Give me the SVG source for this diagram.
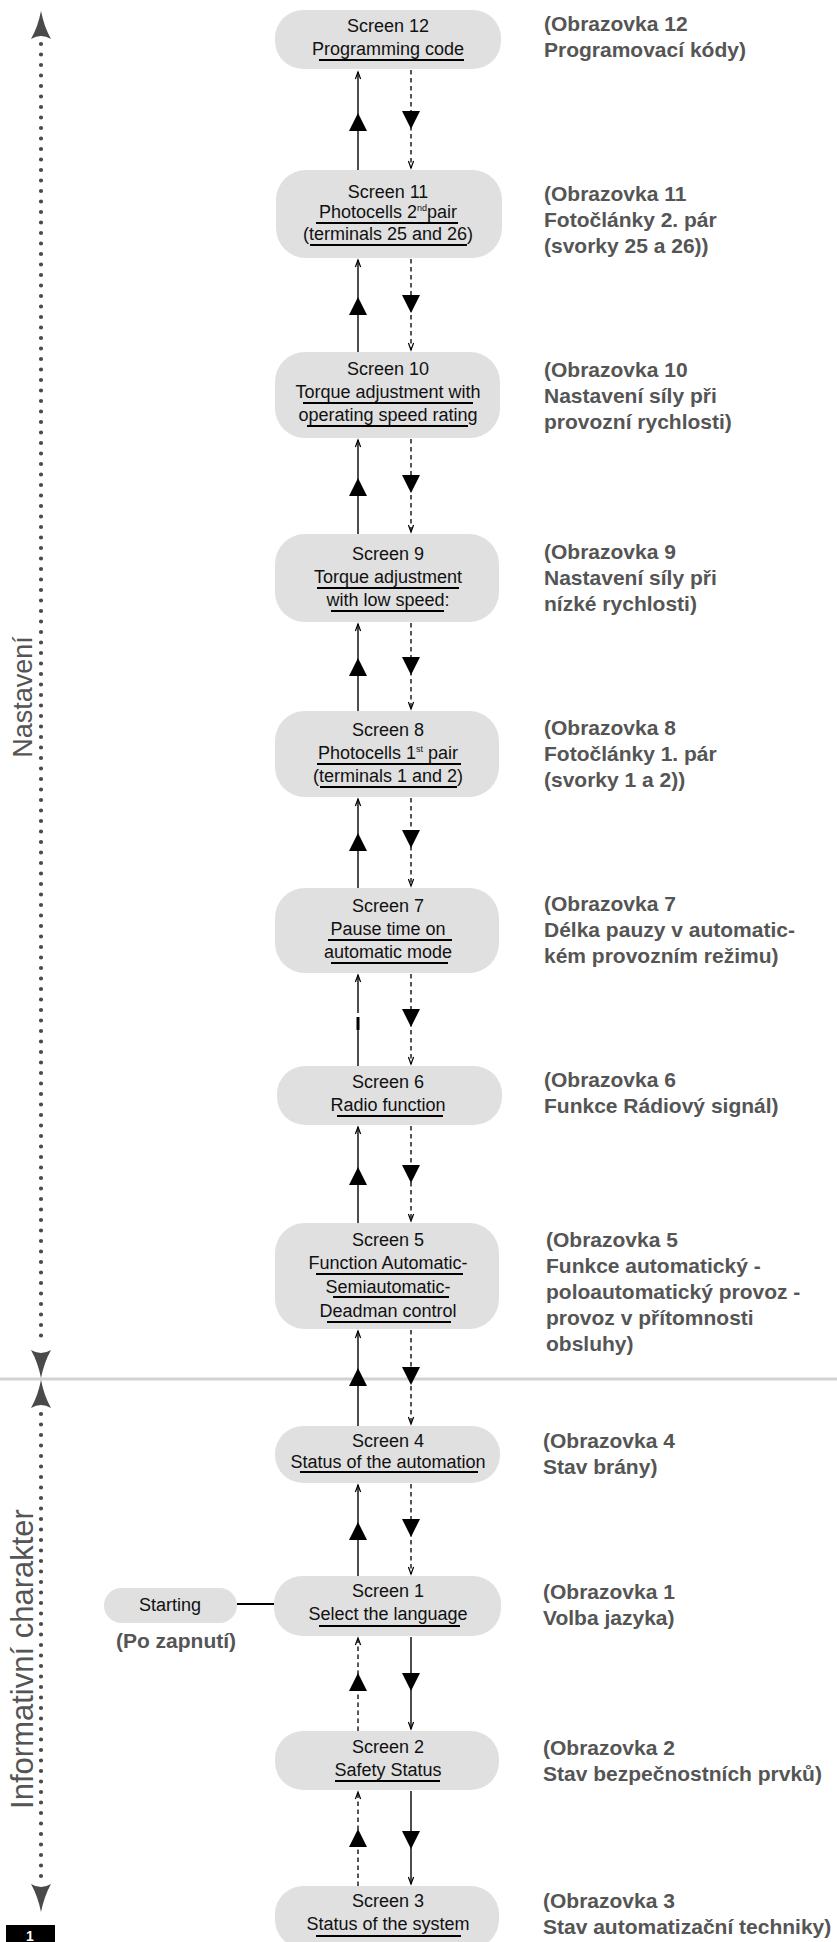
<svg xmlns="http://www.w3.org/2000/svg" xmlns:xlink="http://www.w3.org/1999/xlink" width="837" height="1942" viewBox="0 0 837 1942">
<style>
.box{fill:#e0e0e0}
.nt{font-family:"Liberation Sans",Arial,sans-serif;font-size:18px;fill:#111;text-anchor:middle}
.ul{stroke:#000;stroke-width:1.8}
.lbl{font-family:"Liberation Sans",Arial,sans-serif;font-size:21px;font-weight:bold;fill:#555}
.side{font-family:"Liberation Sans",Arial,sans-serif;font-size:27px;fill:#555;text-anchor:middle}
.sol{stroke:#3a3a3a;stroke-width:1.8;fill:none}
.dsh{stroke:#111;stroke-width:1.4;stroke-dasharray:4.5 3.5;fill:none}
.dots{stroke:#4a4a4a;stroke-width:4.2;stroke-linecap:round;stroke-dasharray:0 10.5;fill:none}
.tri{fill:#000}
.big{fill:#4a4a4a}
</style>
<defs>
<marker id="oa" markerUnits="userSpaceOnUse" markerWidth="12" markerHeight="10" viewBox="-10 -5 12 10" refX="0" refY="0" orient="auto">
<path d="M-7,-2.6 L0,0 L-7,2.6" fill="none" stroke="#000" stroke-width="1.2"/>
</marker>
<path id="tu" d="M0,0 L9,18 L-9,18Z"/>
<path id="td" d="M-9,0 L9,0 L0,18Z"/>
<path id="bigup" d="M0,0 C2,10 5,19 10,28 Q0,22 -10,28 C-5,19 -2,10 0,0Z"/>
<path id="bigdn" d="M0,0 C2,-10 5,-19 10,-28 Q0,-22 -10,-28 C-5,-19 -2,-10 0,0Z"/>
</defs>

<rect width="837" height="1942" fill="#fff"/>

<g id="divider">
<line x1="0" y1="1379" x2="837" y2="1379" stroke="#d2d2d2" stroke-width="3"/>
</g>

<g id="side-axis">
<line class="dots" x1="41" y1="44" x2="41" y2="1345"/>
<line class="dots" x1="41" y1="1414" x2="41" y2="1880"/>
<use xlink:href="#bigup" class="big" x="41" y="11"/>
<use xlink:href="#bigdn" class="big" x="41" y="1378"/>
<use xlink:href="#bigup" class="big" x="41" y="1380"/>
<use xlink:href="#bigdn" class="big" x="41" y="1912"/>
<text class="side" transform="translate(32,697) rotate(-90)">Nastavení</text>
<text class="side" style="font-size:31px" transform="translate(33,1659) rotate(-90)">Informativní charakter</text>
</g>

<g id="connectors">
<!-- 12-11 -->
<line class="sol" x1="358" y1="170" x2="358" y2="72" marker-end="url(#oa)"/>
<use xlink:href="#tu" class="tri" x="358" y="113"/>
<line class="dsh" x1="411" y1="70" x2="411" y2="168" marker-end="url(#oa)"/>
<use xlink:href="#td" class="tri" x="411" y="111"/>
<!-- 11-10 -->
<line class="sol" x1="358" y1="352" x2="358" y2="260" marker-end="url(#oa)"/>
<use xlink:href="#tu" class="tri" x="358" y="297"/>
<line class="dsh" x1="411" y1="259" x2="411" y2="350" marker-end="url(#oa)"/>
<use xlink:href="#td" class="tri" x="411" y="295"/>
<!-- 10-9 -->
<line class="sol" x1="358" y1="534" x2="358" y2="440" marker-end="url(#oa)"/>
<use xlink:href="#tu" class="tri" x="358" y="478"/>
<line class="dsh" x1="411" y1="439" x2="411" y2="532" marker-end="url(#oa)"/>
<use xlink:href="#td" class="tri" x="411" y="475"/>
<!-- 9-8 -->
<line class="sol" x1="358" y1="711" x2="358" y2="624" marker-end="url(#oa)"/>
<use xlink:href="#tu" class="tri" x="358" y="658"/>
<line class="dsh" x1="411" y1="623" x2="411" y2="709" marker-end="url(#oa)"/>
<use xlink:href="#td" class="tri" x="411" y="657"/>
<!-- 8-7 -->
<line class="sol" x1="358" y1="888" x2="358" y2="799" marker-end="url(#oa)"/>
<use xlink:href="#tu" class="tri" x="358" y="833"/>
<line class="dsh" x1="411" y1="798" x2="411" y2="886" marker-end="url(#oa)"/>
<use xlink:href="#td" class="tri" x="411" y="830"/>
<!-- 7-6 -->
<line class="sol" x1="358" y1="1066" x2="358" y2="1030"/>
<line x1="358" y1="1030" x2="358" y2="1017" stroke="#000" stroke-width="3"/>
<line class="sol" x1="358" y1="1013" x2="358" y2="975" marker-end="url(#oa)"/>
<line class="dsh" x1="411" y1="974" x2="411" y2="1064" marker-end="url(#oa)"/>
<use xlink:href="#td" class="tri" x="411" y="1009"/>
<!-- 6-5 -->
<line class="sol" x1="358" y1="1223" x2="358" y2="1127" marker-end="url(#oa)"/>
<use xlink:href="#tu" class="tri" x="358" y="1167"/>
<line class="dsh" x1="411" y1="1126" x2="411" y2="1221" marker-end="url(#oa)"/>
<use xlink:href="#td" class="tri" x="411" y="1165"/>
<!-- 5-4 -->
<line class="sol" x1="358" y1="1426" x2="358" y2="1331" marker-end="url(#oa)"/>
<use xlink:href="#tu" class="tri" x="358" y="1368"/>
<line class="dsh" x1="411" y1="1330" x2="411" y2="1424" marker-end="url(#oa)"/>
<use xlink:href="#td" class="tri" x="411" y="1367"/>
<!-- 4-1 -->
<line class="sol" x1="358" y1="1576" x2="358" y2="1485" marker-end="url(#oa)"/>
<use xlink:href="#tu" class="tri" x="358" y="1522"/>
<line class="dsh" x1="411" y1="1484" x2="411" y2="1574" marker-end="url(#oa)"/>
<use xlink:href="#td" class="tri" x="411" y="1519"/>
<!-- 1-2 -->
<line class="dsh" x1="358" y1="1731" x2="358" y2="1638" marker-end="url(#oa)"/>
<use xlink:href="#tu" class="tri" x="358" y="1673"/>
<line class="sol" x1="411" y1="1637" x2="411" y2="1729" marker-end="url(#oa)"/>
<use xlink:href="#td" class="tri" x="411" y="1673"/>
<!-- 2-3 -->
<line class="dsh" x1="358" y1="1886" x2="358" y2="1792" marker-end="url(#oa)"/>
<use xlink:href="#tu" class="tri" x="358" y="1829"/>
<line class="sol" x1="411" y1="1791" x2="411" y2="1884" marker-end="url(#oa)"/>
<use xlink:href="#td" class="tri" x="411" y="1831"/>
<!-- Starting - Screen 1 -->
<line x1="237" y1="1604" x2="274" y2="1604" stroke="#000" stroke-width="2"/>
</g>

<g id="screen12">
<rect class="box" x="275" y="10" width="226" height="59" rx="28"/>
<text class="nt" x="388" y="32">Screen 12</text>
<text class="nt" x="388" y="55">Programming code</text>
<line class="ul" x1="319" y1="60" x2="464" y2="60"/>
</g>
<g id="screen11">
<rect class="box" x="276" y="170" width="226" height="88" rx="30"/>
<text class="nt" x="388" y="198">Screen 11</text>
<text class="nt" x="388" y="218">Photocells 2<tspan font-size="9" dy="-7">nd</tspan><tspan dy="7">pair</tspan></text>
<line class="ul" x1="316" y1="223" x2="458" y2="223"/>
<text class="nt" x="388" y="240">(terminals 25 and 26)</text>
<line class="ul" x1="310" y1="245" x2="467" y2="245"/>
</g>
<g id="screen10">
<rect class="box" x="275" y="352" width="225" height="86" rx="30"/>
<text class="nt" x="388" y="375">Screen 10</text>
<text class="nt" x="388" y="398">Torque adjustment with</text>
<line class="ul" x1="303" y1="403" x2="473" y2="403"/>
<text class="nt" x="388" y="421">operating speed rating</text>
<line class="ul" x1="307" y1="426" x2="468" y2="426"/>
</g>
<g id="screen9">
<rect class="box" x="275" y="534" width="224" height="88" rx="30"/>
<text class="nt" x="388" y="560">Screen 9</text>
<text class="nt" x="388" y="583">Torque adjustment</text>
<line class="ul" x1="317" y1="588" x2="459" y2="588"/>
<text class="nt" x="388" y="606">with low speed:</text>
<line class="ul" x1="331" y1="611" x2="444" y2="611"/>
</g>
<g id="screen8">
<rect class="box" x="275" y="711" width="224" height="86" rx="30"/>
<text class="nt" x="388" y="736">Screen 8</text>
<text class="nt" x="388" y="759">Photocells 1<tspan font-size="9" dy="-7">st</tspan><tspan dy="7"> pair</tspan></text>
<line class="ul" x1="317" y1="764" x2="461" y2="764"/>
<text class="nt" x="388" y="782">(terminals 1 and 2)</text>
<line class="ul" x1="320" y1="787" x2="457" y2="787"/>
</g>
<g id="screen7">
<rect class="box" x="275" y="888" width="224" height="85" rx="30"/>
<text class="nt" x="388" y="912">Screen 7</text>
<text class="nt" x="388" y="935">Pause time on</text>
<line class="ul" x1="328" y1="940" x2="452" y2="940"/>
<text class="nt" x="388" y="958">automatic mode</text>
<line class="ul" x1="331" y1="963" x2="448" y2="963"/>
</g>
<g id="screen6">
<rect class="box" x="277" y="1066" width="225" height="59" rx="28"/>
<text class="nt" x="388" y="1088">Screen 6</text>
<text class="nt" x="388" y="1111">Radio function</text>
<line class="ul" x1="337" y1="1116" x2="443" y2="1116"/>
</g>
<g id="screen5">
<rect class="box" x="275" y="1223" width="224" height="106" rx="30"/>
<text class="nt" x="388" y="1246">Screen 5</text>
<text class="nt" x="388" y="1269">Function Automatic-</text>
<line class="ul" x1="316" y1="1274" x2="463" y2="1274"/>
<text class="nt" x="388" y="1293">Semiautomatic-</text>
<line class="ul" x1="333" y1="1297" x2="449" y2="1297"/>
<text class="nt" x="388" y="1317">Deadman control</text>
<line class="ul" x1="327" y1="1322" x2="451" y2="1322"/>
</g>
<g id="screen4">
<rect class="box" x="275" y="1426" width="225" height="57" rx="28"/>
<text class="nt" x="388" y="1447">Screen 4</text>
<text class="nt" x="388" y="1468">Status of the automation</text>
<line class="ul" x1="300" y1="1472" x2="478" y2="1472"/>
</g>
<g id="starting">
<rect class="box" x="104" y="1588" width="133" height="35" rx="17.5"/>
<text class="nt" x="170" y="1611">Starting</text>
<text class="lbl" x="176" y="1648" text-anchor="middle">(Po zapnutí)</text>
</g>
<g id="screen1">
<rect class="box" x="274" y="1576" width="227" height="60" rx="28"/>
<text class="nt" x="388" y="1597">Screen 1</text>
<text class="nt" x="388" y="1620">Select the language</text>
<line class="ul" x1="319" y1="1626" x2="460" y2="1626"/>
</g>
<g id="screen2">
<rect class="box" x="275" y="1731" width="224" height="59" rx="28"/>
<text class="nt" x="388" y="1753">Screen 2</text>
<text class="nt" x="388" y="1776">Safety Status</text>
<line class="ul" x1="335" y1="1781" x2="440" y2="1781"/>
</g>
<g id="screen3">
<rect class="box" x="275" y="1886" width="224" height="62" rx="28"/>
<text class="nt" x="388" y="1907">Screen 3</text>
<text class="nt" x="388" y="1930">Status of the system</text>
<line class="ul" x1="316" y1="1936" x2="461" y2="1936"/>
</g>

<g id="labels">
<text class="lbl" x="544" y="31"><tspan x="544">(Obrazovka 12</tspan><tspan x="544" dy="26">Programovací kódy)</tspan></text>
<text class="lbl" x="544" y="201"><tspan x="544">(Obrazovka 11</tspan><tspan x="544" dy="26">Fotočlánky 2. pár</tspan><tspan x="544" dy="26">(svorky 25 a 26))</tspan></text>
<text class="lbl" x="544" y="377"><tspan x="544">(Obrazovka 10</tspan><tspan x="544" dy="26">Nastavení síly při</tspan><tspan x="544" dy="26">provozní rychlosti)</tspan></text>
<text class="lbl" x="544" y="559"><tspan x="544">(Obrazovka 9</tspan><tspan x="544" dy="26">Nastavení síly při</tspan><tspan x="544" dy="26">nízké rychlosti)</tspan></text>
<text class="lbl" x="544" y="735"><tspan x="544">(Obrazovka 8</tspan><tspan x="544" dy="26">Fotočlánky 1. pár</tspan><tspan x="544" dy="26">(svorky 1 a 2))</tspan></text>
<text class="lbl" x="544" y="911"><tspan x="544">(Obrazovka 7</tspan><tspan x="544" dy="26">Délka pauzy v automatic-</tspan><tspan x="544" dy="26">kém provozním režimu)</tspan></text>
<text class="lbl" x="544" y="1087"><tspan x="544">(Obrazovka 6</tspan><tspan x="544" dy="26">Funkce Rádiový signál)</tspan></text>
<text class="lbl" x="546" y="1247"><tspan x="546">(Obrazovka 5</tspan><tspan x="546" dy="26">Funkce automatický -</tspan><tspan x="546" dy="26">poloautomatický provoz -</tspan><tspan x="546" dy="26">provoz v přítomnosti</tspan><tspan x="546" dy="26">obsluhy)</tspan></text>
<text class="lbl" x="543" y="1448"><tspan x="543">(Obrazovka 4</tspan><tspan x="543" dy="26">Stav brány)</tspan></text>
<text class="lbl" x="543" y="1599"><tspan x="543">(Obrazovka 1</tspan><tspan x="543" dy="26">Volba jazyka)</tspan></text>
<text class="lbl" x="543" y="1755"><tspan x="543">(Obrazovka 2</tspan><tspan x="543" dy="26">Stav bezpečnostních prvků)</tspan></text>
<text class="lbl" x="543" y="1908"><tspan x="543">(Obrazovka 3</tspan><tspan x="543" dy="26">Stav automatizační techniky)</tspan></text>
</g>

<g id="page-number">
<rect x="6" y="1925" width="49" height="21" fill="#000"/>
<text x="30" y="1941" font-family="Liberation Sans,Arial,sans-serif" font-size="14" font-weight="bold" fill="#fff" text-anchor="middle">1</text>
</g>
</svg>
